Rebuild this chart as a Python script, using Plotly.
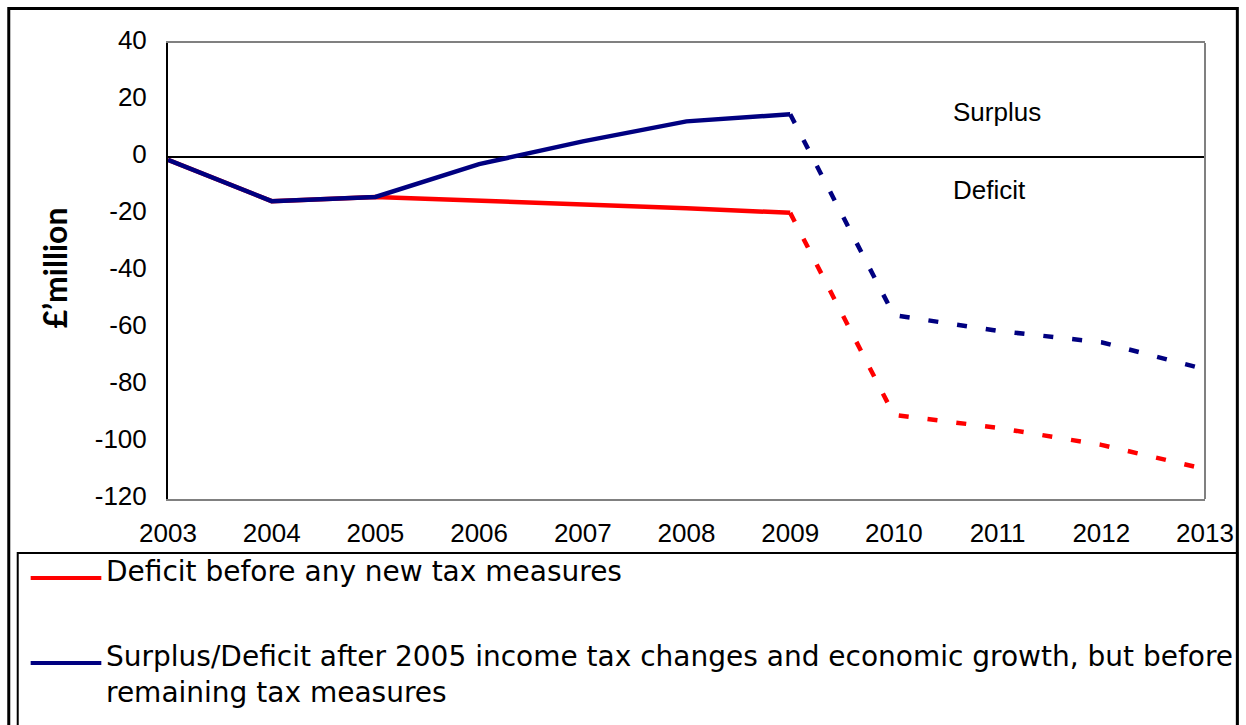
import plotly.graph_objects as go

years = [2003, 2004, 2005, 2006, 2007, 2008, 2009, 2010, 2011, 2012, 2013]
deficit_before = [-1, -15.5, -14, -15.3, -16.5, -18, -19.6, -90.5, -95, -101, -109.5]
surplus_after = [-1, -15.5, -14, -2.5, 5.5, 12.5, 15, -55.5, -61, -65, -74.5]
tick_labels = [str(y) for y in years]
y_ticks = [40, 20, 0, -20, -40, -60, -80, -100, -120]
y_tick_labels = [str(v) for v in y_ticks]
forecast_start = 2009

series_names = ["Deficit before any new tax measures",
                "Surplus/Deficit after 2005 income tax changes and economic growth, but before<br>remaining tax measures"]

RED = "#FF0000"
NAVY = "#000080"

W, H = 1246, 725
L, R, T, B = 168, 1210, 43, 499


def px(p):
    return (p - L) / (R - L)


def py(p):
    return (B - p) / (B - T)


fig = go.Figure()
k = years.index(forecast_start)
for vals, col in [(deficit_before, RED), (surplus_after, NAVY)]:
    fig.add_trace(go.Scatter(x=years[:k + 1], y=vals[:k + 1], mode="lines",
                             line=dict(color=col, width=4.5), showlegend=False))
    fig.add_trace(go.Scatter(x=years[k:], y=vals[k:], mode="lines",
                             line=dict(color=col, width=4.5, dash="10px,19px"), showlegend=False))

TICKFONT = dict(family="Arial, Liberation Sans, sans-serif", size=26, color="#000000")

shapes = [
    # right gray frame line
    dict(type="line", xref="paper", yref="paper", x0=1, x1=1, y0=0, y1=1,
         line=dict(color="#808080", width=2)),
    # outer border
    dict(type="rect", xref="paper", yref="paper", x0=px(8), x1=px(1242.5), y0=py(760), y1=py(8.5),
         line=dict(color="#000000", width=3)),
    # legend box
    dict(type="rect", xref="paper", yref="paper", x0=px(17), x1=px(1242.5), y0=py(760), y1=py(553),
         line=dict(color="#000000", width=2)),
    # legend samples
    dict(type="line", xref="paper", yref="paper", x0=px(30), x1=px(101), y0=py(578), y1=py(578),
         line=dict(color=RED, width=4)),
    dict(type="line", xref="paper", yref="paper", x0=px(30), x1=px(101), y0=py(663), y1=py(663),
         line=dict(color=NAVY, width=4)),
]

LEGFONT = dict(family="DejaVu Sans", size=28, color="#000000")
annotations = [
    dict(text=series_names[0], xref="paper", yref="paper", x=px(104), y=py(571),
         xanchor="left", yanchor="middle", showarrow=False, font=LEGFONT, align="left"),
    dict(text=series_names[1], xref="paper", yref="paper", x=px(104), y=py(675),
         xanchor="left", yanchor="middle", showarrow=False, font=LEGFONT, align="left"),
    dict(text="Surplus", xref="paper", yref="paper", x=px(955), y=py(112),
         xanchor="left", yanchor="middle", showarrow=False, font=TICKFONT),
    dict(text="Deficit", xref="paper", yref="paper", x=px(955), y=py(190),
         xanchor="left", yanchor="middle", showarrow=False, font=TICKFONT),
    dict(text="£’million", xref="paper", yref="paper", x=px(53), y=py(268),
         xanchor="center", yanchor="middle", textangle=-90, showarrow=False,
         font=dict(family="Lato", size=32, color="#000000", weight="bold")),
]

fig.update_layout(
    width=W, height=H,
    margin=dict(l=L, r=W - R, t=T, b=H - B, pad=0),
    paper_bgcolor="#FFFFFF", plot_bgcolor="#FFFFFF",
    shapes=shapes, annotations=annotations,
    showlegend=False,
    xaxis=dict(range=[years[0], years[-1]], tickvals=years, ticktext=tick_labels,
               showgrid=False, zeroline=False, showline=True, linecolor="#808080", linewidth=2,
               mirror=True, ticks="", tickfont=TICKFONT, ticklabelstandoff=10),
    yaxis=dict(range=[-120, 40], tickvals=y_ticks, ticktext=y_tick_labels, showgrid=False,
               zeroline=True, zerolinecolor="#000000", zerolinewidth=2,
               showline=True, linecolor="#000000", linewidth=2, ticks="",
               tickfont=TICKFONT, ticklabelstandoff=14, ticklabelshift=-3),
)

fig.write_html("out.html")
